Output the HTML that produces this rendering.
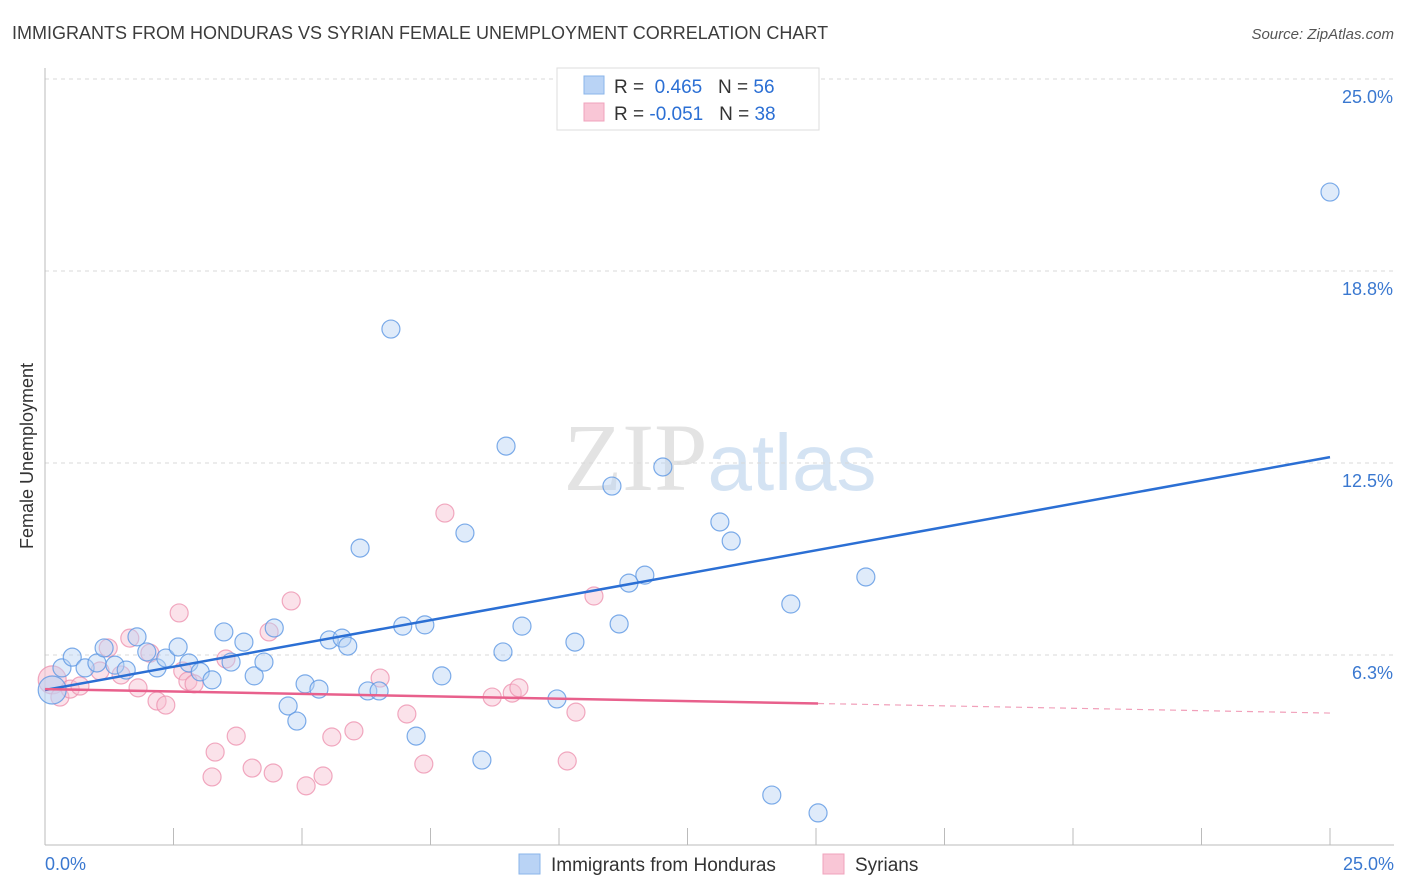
<!DOCTYPE html>
<html><head><meta charset="utf-8"><style>
body{margin:0;background:#fff;font-family:"Liberation Sans",sans-serif;}
svg{display:block}
</style></head><body>
<svg id="chart" width="1406" height="892" viewBox="0 0 1406 892">
<text x="12" y="39" font-size="18" fill="#3c3c3c">IMMIGRANTS FROM HONDURAS VS SYRIAN FEMALE UNEMPLOYMENT CORRELATION CHART</text>
<text x="1394" y="39" font-size="15" fill="#555" font-style="italic" text-anchor="end">Source: ZipAtlas.com</text>
<text x="720" y="490" font-size="96" text-anchor="middle" fill="#e3e3e3" font-family="Liberation Serif,serif">ZIP<tspan fill="#d4e3f3" font-family="Liberation Sans,sans-serif" font-size="80">atlas</tspan></text>
<text transform="translate(33,456) rotate(-90)" font-size="18" fill="#333" text-anchor="middle">Female Unemployment</text>
<g id="grid"></g><g id="axes"></g><g id="marks"></g>
<g>
<rect x="557" y="68" width="262" height="62" fill="#fff" stroke="#ddd"/>
<rect x="584" y="76" width="20" height="18" fill="#b9d3f5" stroke="#8ab4ea"/>
<rect x="584" y="103" width="20" height="18" fill="#f9c6d6" stroke="#f0a3bc"/>
<text x="614" y="93" font-size="19" fill="#333">R = <tspan fill="#2b6fd4">&#160;0.465</tspan>&#160;&#160;&#160;N = <tspan fill="#2b6fd4">56</tspan></text>
<text x="614" y="120" font-size="19" fill="#333">R = <tspan fill="#2b6fd4">-0.051</tspan>&#160;&#160;&#160;N = <tspan fill="#2b6fd4">38</tspan></text>
</g>
<g>
<rect x="519" y="854" width="21" height="20" fill="#b9d3f5" stroke="#8ab4ea"/>
<text x="551" y="871" font-size="19" fill="#333">Immigrants from Honduras</text>
<rect x="823" y="854" width="21" height="20" fill="#f9c6d6" stroke="#f0a3bc"/>
<text x="855" y="871" font-size="19" fill="#333">Syrians</text>
</g>
</svg>
<script>
const yTicks=[6.25,12.5,18.75,25];
const yTickLabels=["6.3%","12.5%","18.8%","25.0%"];
const xTickLabels=["0.0%","25.0%"];
const blueX=[0.14,0.33,0.53,0.78,1.01,1.15,1.36,1.58,1.79,1.98,2.18,2.35,2.59,2.80,3.02,3.25,3.48,3.62,3.87,4.07,4.26,4.46,4.73,4.90,5.06,5.33,5.53,5.78,5.89,6.13,6.28,6.50,6.73,6.96,7.22,7.39,7.72,8.17,8.50,8.91,8.97,9.28,9.96,10.31,11.03,11.17,11.36,11.67,12.02,13.13,13.35,14.14,14.51,15.04,15.97,25.0];
const blueY=[5.11,5.83,6.18,5.83,5.99,6.48,5.92,5.76,6.84,6.35,5.83,6.15,6.51,5.99,5.70,5.44,7.00,6.02,6.67,5.57,6.02,7.13,4.59,4.10,5.31,5.14,6.74,6.80,6.54,9.73,5.08,5.08,16.86,7.19,3.61,7.23,5.57,10.22,2.83,6.35,13.05,7.19,4.82,6.67,11.75,7.26,8.59,8.85,12.37,10.58,9.96,1.69,7.91,1.11,8.79,21.32];
const pinkX=[0.14,0.29,0.49,0.68,1.07,1.23,1.48,1.65,1.81,2.04,2.18,2.35,2.61,2.68,2.78,2.90,3.25,3.31,3.52,3.72,4.03,4.36,4.44,4.79,5.08,5.41,5.58,6.01,6.52,7.04,7.37,7.78,8.70,9.09,9.22,10.16,10.33,10.68];
const pinkY=[5.44,4.88,5.14,5.24,5.73,6.48,5.60,6.80,5.18,6.31,4.75,4.62,7.62,5.73,5.40,5.31,2.28,3.09,6.12,3.61,2.57,7.00,2.41,8.01,1.99,2.31,3.58,3.78,5.50,4.33,2.70,10.87,4.88,5.01,5.18,2.80,4.39,8.17];
const blueTrend=[5.11,12.69];
const pinkTrend=[5.14,4.36];
const pinkSolidEnd=15.04;
const NS="http://www.w3.org/2000/svg";
const X=v=>45+v/25*1285, Y=v=>847-v/6.25*192;
function mk(p,t,a){const e=document.createElementNS(NS,t);for(const k in a)e.setAttribute(k,a[k]);document.getElementById(p).appendChild(e);return e;}
yTicks.forEach((t,i)=>{
 const g=mk('grid','line',{x1:45,x2:1394,y1:Y(t),y2:Y(t),stroke:'#d8d8d8','stroke-dasharray':'4,4'});
 
 
 const l=mk('axes','text',{x:1393,y:Y(t)+24,'text-anchor':'end','font-size':18,fill:'#3a78d0'});
 l.textContent=yTickLabels[i];
 
 
});
const ax=mk('axes','line',{x1:45,x2:1394,y1:845,y2:845,stroke:'#bbb'});


const ay=mk('axes','line',{x1:45,x2:45,y1:68,y2:845,stroke:'#bbb'});


for(let i=0;i<=10;i++){const t=mk('axes','line',{x1:X(i*2.5),x2:X(i*2.5),y1:828,y2:845,stroke:'#bbb'});
 
 }
[[0,45,'start'],[25,1394,'end']].forEach((d,i)=>{const l=mk('axes','text',{x:d[1],y:870,'text-anchor':d[2],'font-size':18,fill:'#3a78d0'});
 l.textContent=xTickLabels[i];
 
 });
function pts(xs,ys,fill,stroke,name){xs.forEach((x,i)=>{const big=i===0;
 const c=mk('marks','circle',{cx:X(x),cy:Y(ys[i]),r:big?14:9,fill:fill,'fill-opacity':big?0.6:0.45,stroke:stroke,'stroke-width':1.2,'stroke-opacity':0.8});
 
 });}
pts(pinkX,pinkY,'#f7bfd0','#ee93b0','syrians-point');
pts(blueX,blueY,'#b9d3f5','#5d97e3','honduras-point');
const bl=mk('marks','line',{x1:X(0),y1:Y(blueTrend[0]),x2:X(25),y2:Y(blueTrend[1]),stroke:'#2b6fd4','stroke-width':2.5});


const pv=x=>pinkTrend[0]+(pinkTrend[1]-pinkTrend[0])*x/25;
const pl=mk('marks','line',{x1:X(0),y1:Y(pv(0)),x2:X(pinkSolidEnd),y2:Y(pv(pinkSolidEnd)),stroke:'#e8608c','stroke-width':2.5});


const pd=mk('marks','line',{x1:X(pinkSolidEnd),y1:Y(pv(pinkSolidEnd)),x2:X(25),y2:Y(pv(25)),stroke:'#e8608c','stroke-width':1.2,'stroke-dasharray':'6,5','stroke-opacity':0.6});


</script>
</body></html>
